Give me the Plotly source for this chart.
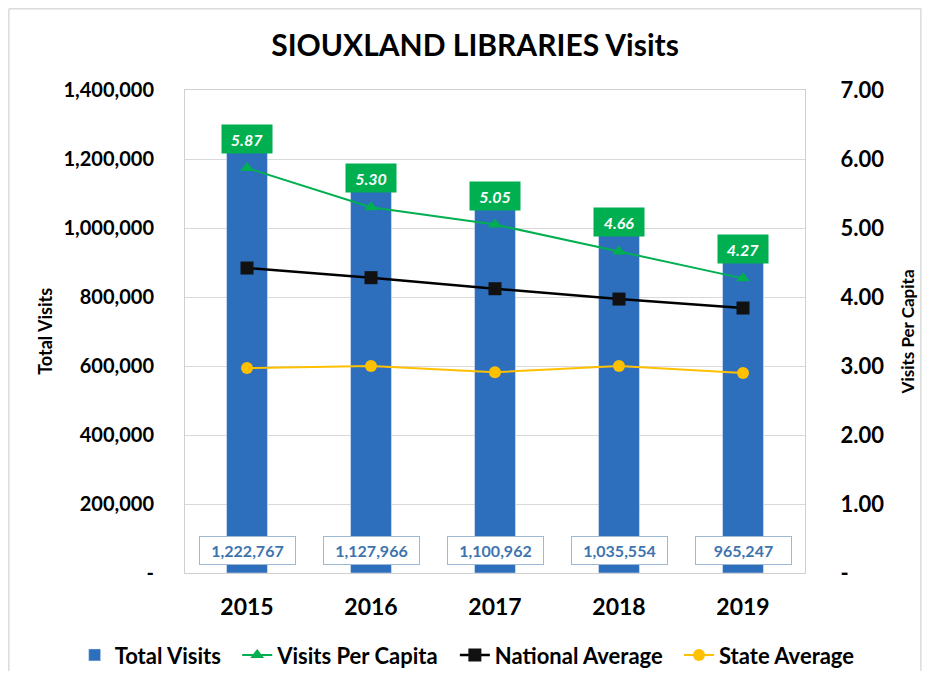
import plotly.graph_objects as go

years = ["2015", "2016", "2017", "2018", "2019"]
total_visits = [1222767, 1127966, 1100962, 1035554, 965247]
visits_per_capita = [5.87, 5.30, 5.05, 4.66, 4.27]
national_average = [4.42, 4.28, 4.12, 3.97, 3.84]
state_average = [2.97, 3.00, 2.91, 3.00, 2.90]

left_ticks = [0, 200000, 400000, 600000, 800000, 1000000, 1200000, 1400000]
left_labels = ["-", "200,000", "400,000", "600,000", "800,000", "1,000,000", "1,200,000", "1,400,000"]
right_ticks = [0, 1, 2, 3, 4, 5, 6, 7]
right_labels = ["-", "1.00", "2.00", "3.00", "4.00", "5.00", "6.00", "7.00"]

FONT = "Lato"
BLUE = "#2E6FBD"
GREEN = "#00B050"
YELLOW = "#FFC000"
PAD = "\u00a0\u00a0"

xpos = list(range(len(years)))

fig = go.Figure()
fig.add_trace(go.Bar(x=xpos, y=total_visits, name="<b>Total Visits</b>" + PAD, marker_color=BLUE,
                     width=0.33, yaxis="y"))
fig.add_trace(go.Scatter(x=xpos, y=visits_per_capita, name="<b>Visits Per Capita</b>" + PAD, yaxis="y2",
                         mode="lines+markers", line=dict(color=GREEN, width=2),
                         marker=dict(symbol="triangle-up", size=12, color=GREEN)))
fig.add_trace(go.Scatter(x=xpos, y=national_average, name="<b>National Average</b>" + PAD, yaxis="y2",
                         mode="lines+markers", line=dict(color="#000000", width=2.5),
                         marker=dict(symbol="square", size=13, color="#111111")))
fig.add_trace(go.Scatter(x=xpos, y=state_average, name="<b>State Average</b>", yaxis="y2",
                         mode="lines+markers", line=dict(color=YELLOW, width=2),
                         marker=dict(symbol="circle", size=12, color=YELLOW)))

annotations = []
for xp, v in zip(xpos, total_visits):
    annotations.append(dict(x=xp, y=0, xref="x", yref="y", yshift=23, showarrow=False,
                            text=f"<b>{v:,}</b>", font=dict(family=FONT, size=16, color="#3E74AE"),
                            bgcolor="white", bordercolor="#9DB8D2", borderwidth=1, borderpad=4,
                            width=87))
for xp, v in zip(xpos, visits_per_capita):
    annotations.append(dict(x=xp, y=v, xref="x", yref="y2", yshift=29, showarrow=False,
                            text=f"<b><i>{v:.2f}</i></b>", font=dict(family=FONT, size=16, color="white"),
                            bgcolor=GREEN, borderpad=3, width=44, height=22))
annotations.append(dict(x=-0.227, y=0.5, xref="paper", yref="paper", showarrow=False, textangle=-90,
                        xanchor="center", yanchor="middle",
                        text="<b>Total Visits</b>", font=dict(family=FONT, size=18, color="#000")))
annotations.append(dict(x=1.166, y=0.5, xref="paper", yref="paper", showarrow=False, textangle=-90,
                        xanchor="center", yanchor="middle",
                        text="<b>Visits Per Capita</b>", font=dict(family=FONT, size=17, color="#000")))

fig.update_layout(
    width=914, height=663,
    margin=dict(l=177, r=117, t=82, b=98, autoexpand=False),
    paper_bgcolor="white", plot_bgcolor="white",
    title=dict(text="<b>SIOUXLAND LIBRARIES Visits</b>", x=0.511, xanchor="center",
               y=1 - 37 / 663, yanchor="middle",
               font=dict(family=FONT, size=30, color="#000")),
    font=dict(family=FONT, color="#000"),
    xaxis=dict(range=[-0.5, len(years) - 0.5], tickvals=xpos, ticktext=[f"<b>{y}</b>" for y in years],
               tickfont=dict(family=FONT, size=23, color="#000"), ticklabelstandoff=13,
               showline=True, linecolor="#D0D0D0", mirror=True, showgrid=False, zeroline=False,
               automargin=False),
    yaxis=dict(range=[0, 1400000], tickvals=left_ticks, ticktext=[f"<b>{t}</b>" for t in left_labels],
               tickfont=dict(family=FONT, size=20, color="#000"), gridcolor="#D9D9D9",
               showline=True, linecolor="#D0D0D0", zeroline=False, ticklabelstandoff=26,
               automargin=False),
    yaxis2=dict(range=[0, 7], tickvals=right_ticks, ticktext=[f"<b>{t}</b>" for t in right_labels],
                tickfont=dict(family=FONT, size=22, color="#000"), overlaying="y", side="right",
                showgrid=False, zeroline=False, showline=True, linecolor="#D0D0D0", ticklabelstandoff=30,
                automargin=False),
    legend=dict(orientation="h", x=-0.178, xanchor="left", y=-0.17, yanchor="middle",
                font=dict(family=FONT, size=22, color="#000"), traceorder="normal"),
    annotations=annotations,
    shapes=[dict(type="rect", xref="paper", yref="paper", x0=-0.284, x1=1.187, y0=-0.207, y1=1.168,
                 line=dict(color="#C8C8C8", width=1), fillcolor="rgba(0,0,0,0)")],
)

fig.write_html("out.html")
